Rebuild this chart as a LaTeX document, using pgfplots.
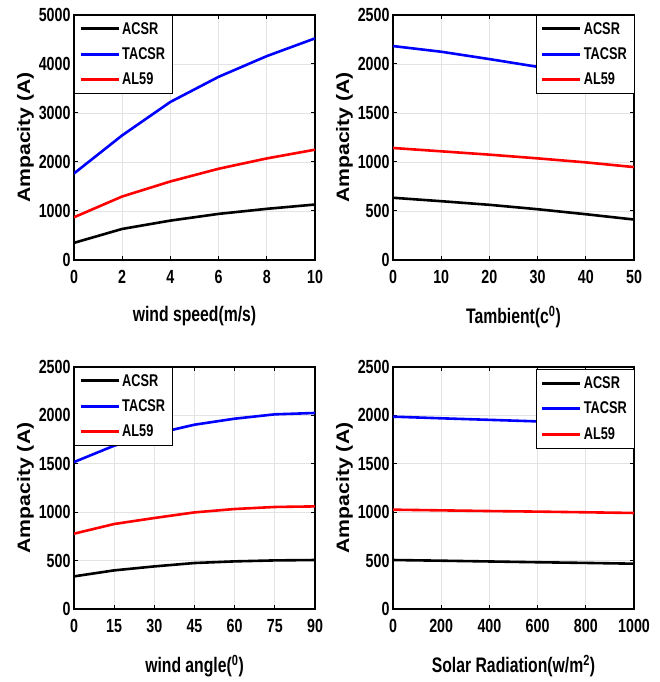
\documentclass[border=0pt]{standalone}
\usepackage{fontspec}
\setmainfont{Liberation Sans}
\newfontfamily\cond{Liberation Sans}[FakeStretch=0.75]
\newfontfamily\wide{Liberation Sans}[FakeStretch=1.18]
\usepackage{pgfplots}
\pgfplotsset{compat=1.18}

\pgfplotsset{
  panel/.style={
    scale only axis, width=241pt, height=245pt,
    grid=major, grid style={gray!22, line width=0.7pt},
    axis line style={line width=1.2pt},
    tick style={black, line width=1pt}, major tick length=4pt, tick align=inside,
    tick label style={font=\cond\bfseries\fontsize{19}{19}\selectfont},
    xticklabel style={yshift=-7pt},
    /pgf/number format/assume math mode=true,
    /pgf/number format/1000 sep={}, scaled ticks=false,
    ylabel={Ampacity (A)},
    ylabel style={font=\wide\bfseries\fontsize{18}{18}\selectfont, yshift=-2pt},
    xlabel style={font=\cond\bfseries\fontsize{21}{21}\selectfont, yshift=-15pt},
    legend style={font=\cond\bfseries\fontsize{17}{17}\selectfont,
      draw=black, fill=white, row sep=8pt, inner xsep=5pt, inner ysep=5pt},
    legend cell align=left,
    legend image code/.code={\draw[#1, line width=3pt] (0pt,0pt) -- (38pt,0pt);},
    every axis plot/.append style={line width=2.6pt},
  },
  ll/.style={legend style={at={(0,1)}, anchor=north west}},
  lr/.style={legend style={at={(1,1)}, anchor=north east}},
}

\begin{document}
\begin{tikzpicture}
\useasboundingbox (0,0) rectangle (660pt,682pt);

% wind speed
\begin{axis}[panel, ll, at={(74pt,422pt)}, anchor=south west,
  xmin=0, xmax=10, ymin=0, ymax=5000, xtick={0,2,...,10}, ytick={0,1000,...,5000},
  xlabel={wind speed(m/s)}]
\addplot[black] coordinates {(0,350) (2,634) (4,804) (6,941) (8,1044) (10,1132)};
\addplot[blue] coordinates {(0,1766) (2,2544) (4,3226) (6,3738) (8,4161) (10,4523)};
\addplot[red] coordinates {(0,872) (2,1296) (4,1603) (6,1862) (8,2073) (10,2251)};
\legend{ACSR, TACSR, AL59}
\end{axis}

% ambient temperature
\begin{axis}[panel, lr, at={(393pt,422pt)}, anchor=south west,
  xmin=0, xmax=50, ymin=0, ymax=2500, xtick={0,10,...,50}, ytick={0,500,...,2500},
  xlabel={Tambient(c\textsuperscript{0})}]
\addplot[black] coordinates {(0,635) (10,600) (20,563) (30,518) (40,467) (50,413)};
\addplot[blue] coordinates {(0,2183) (10,2125) (20,2050) (30,1971) (40,1900) (50,1825)};
\addplot[red] coordinates {(0,1143) (10,1109) (20,1075) (30,1037) (40,996) (50,948)};
\legend{ACSR, TACSR, AL59}
\end{axis}

% wind angle
\begin{axis}[panel, ll, at={(74pt,73pt)}, anchor=south west, height=242pt,
  xmin=0, xmax=90, ymin=0, ymax=2500, xtick={0,15,...,90}, ytick={0,500,...,2500},
  xlabel={wind angle(\textsuperscript{0})}]
\addplot[black] coordinates {(0,337) (15,399) (30,440) (45,475) (60,492) (75,502) (90,506)};
\addplot[blue] coordinates {(0,1518) (15,1687) (30,1808) (45,1904) (60,1966) (75,2011) (90,2025)};
\addplot[red] coordinates {(0,778) (15,878) (30,940) (45,998) (60,1033) (75,1054) (90,1060)};
\legend{ACSR, TACSR, AL59}
\end{axis}

% solar radiation
\begin{axis}[panel, lr, at={(393pt,73pt)}, anchor=south west, height=242pt,
  legend style={at={(1,0.99)}},
  xmin=0, xmax=1000, ymin=0, ymax=2500, xtick={0,200,...,1000}, ytick={0,500,...,2500},
  xlabel={Solar Radiation(w/m\textsuperscript{2})}]
\addplot[black] coordinates {(0,506) (200,499) (400,491) (600,483) (800,476) (1000,468)};
\addplot[blue] coordinates {(0,1987) (200,1970) (400,1954) (600,1938) (800,1918) (1000,1897)};
\addplot[red] coordinates {(0,1026) (200,1019) (400,1012) (600,1006) (800,999) (1000,992)};
\legend{ACSR, TACSR, AL59}
\end{axis}
\end{tikzpicture}
\end{document}
